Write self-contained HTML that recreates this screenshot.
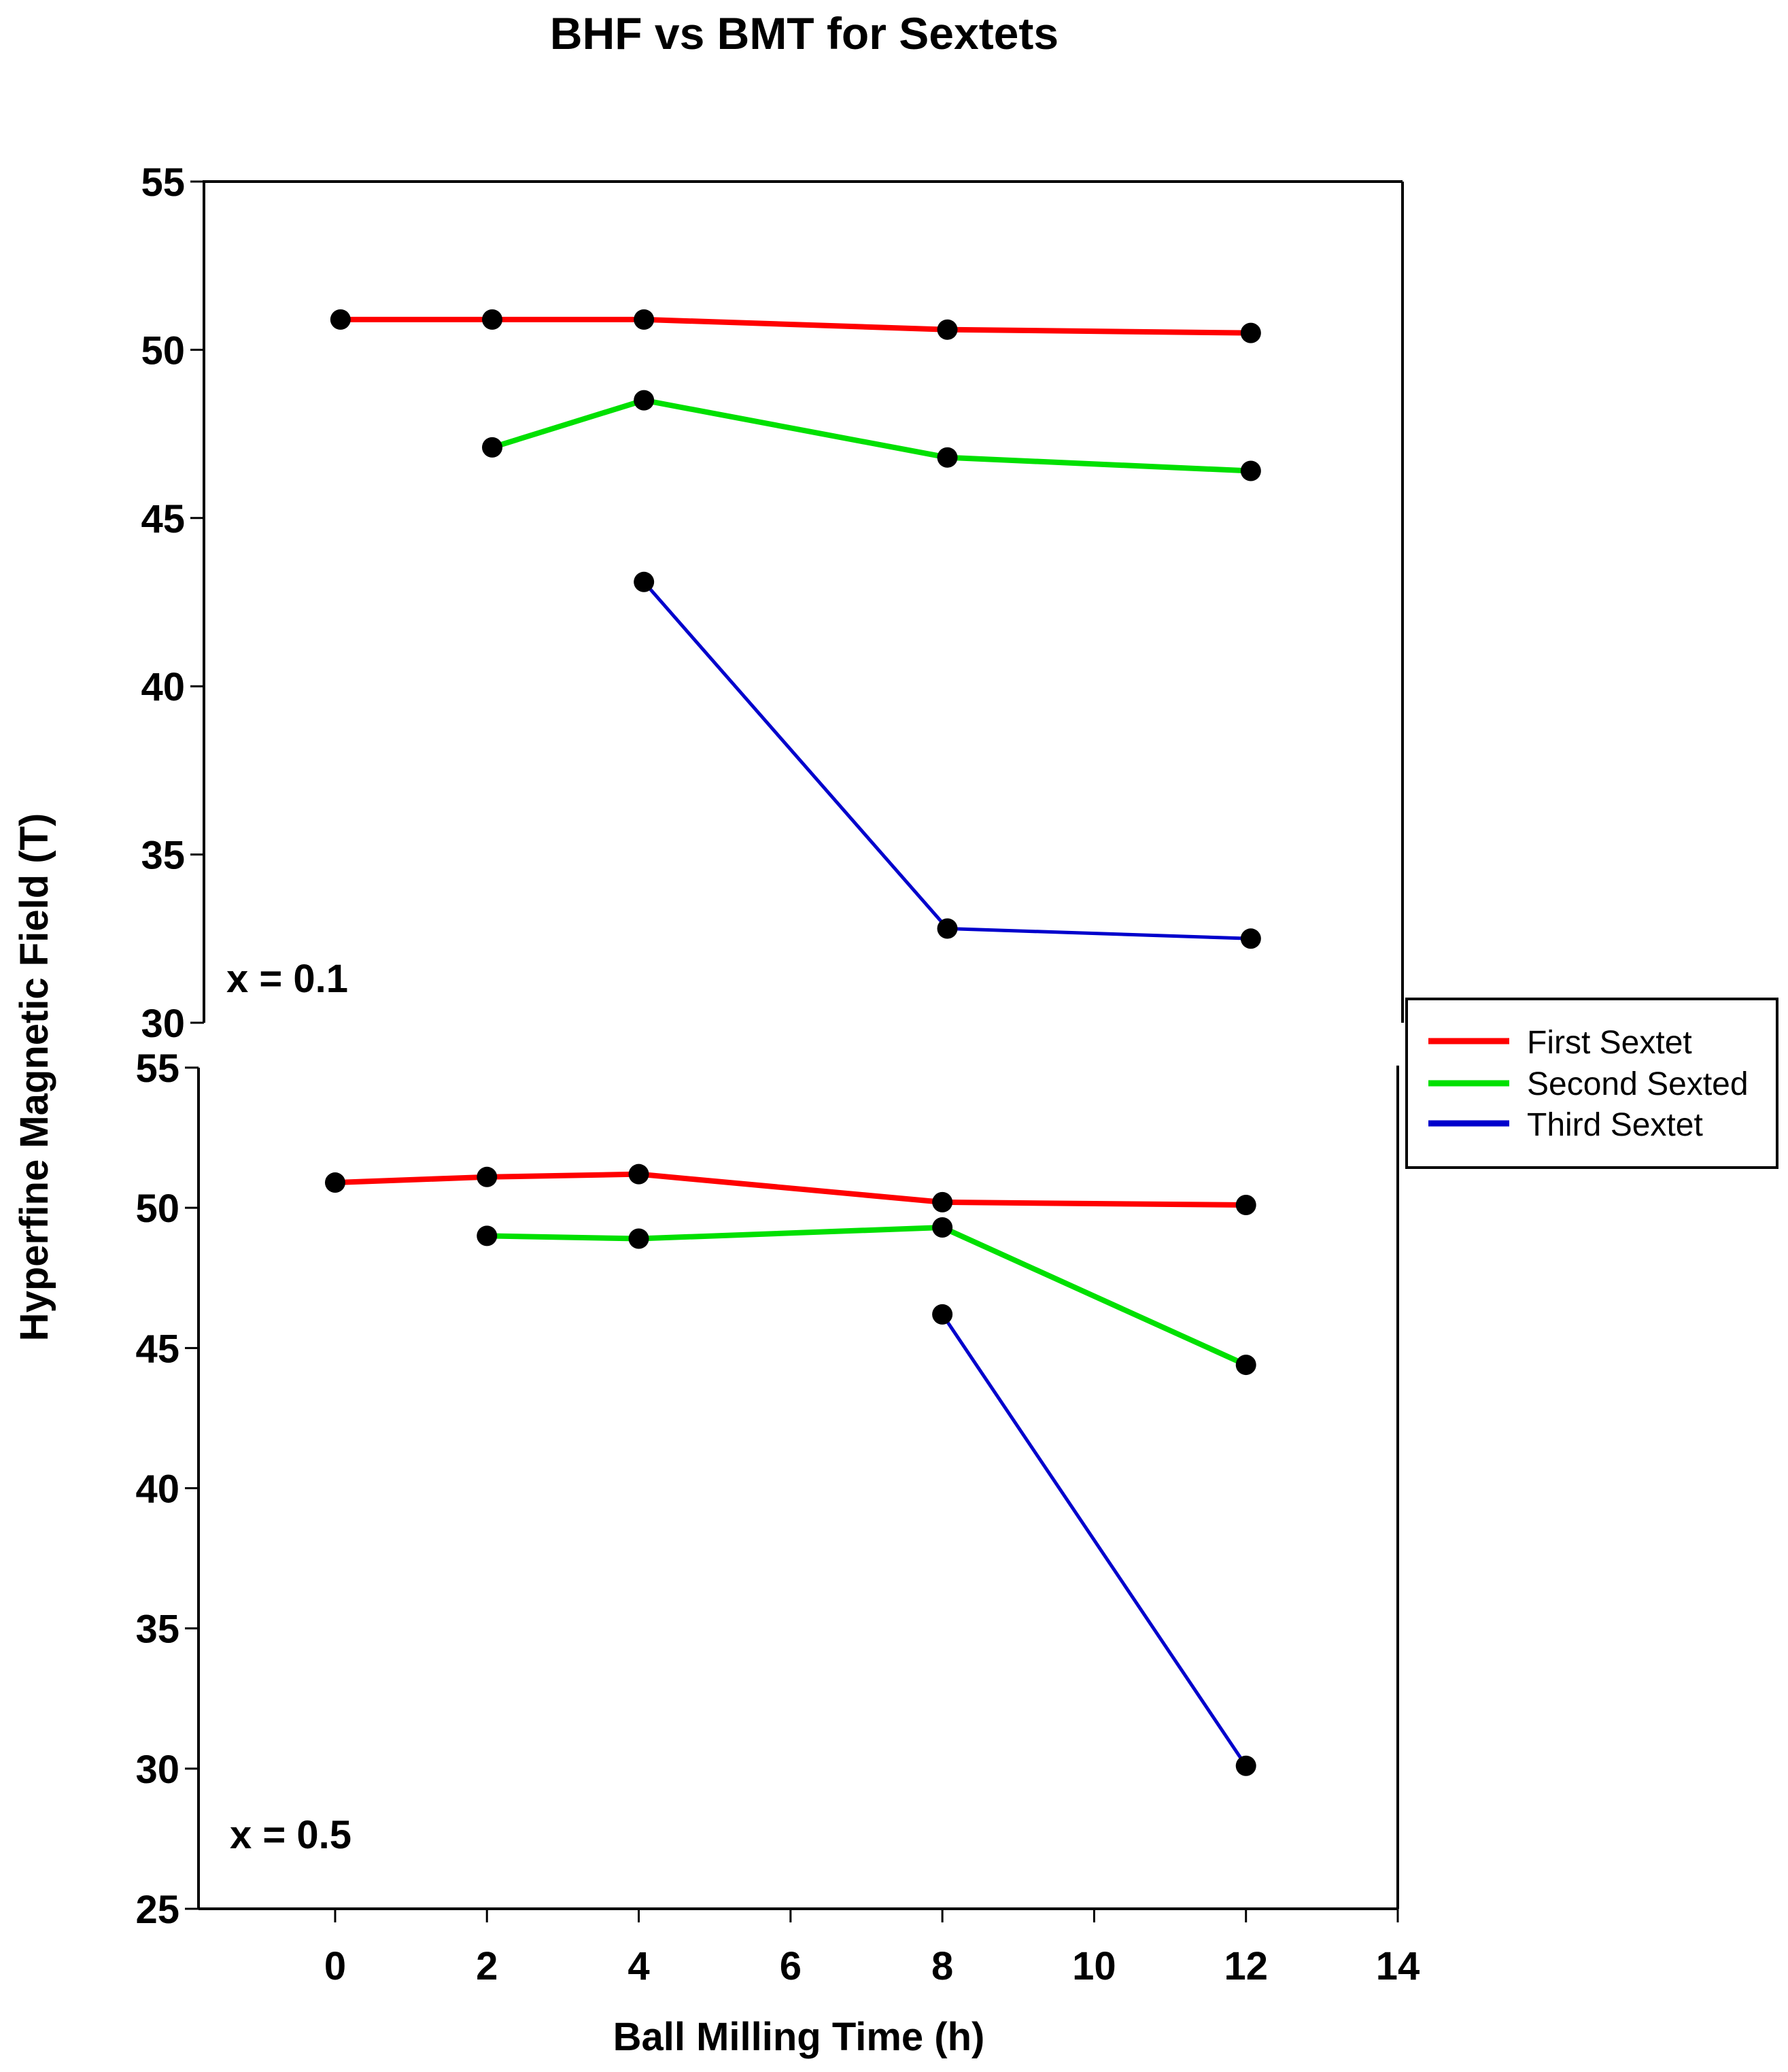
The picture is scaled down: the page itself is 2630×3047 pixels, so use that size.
<!DOCTYPE html>
<html><head><meta charset="utf-8"><style>
html,body{margin:0;padding:0;background:#fff;}
svg{display:block;font-family:"Liberation Sans",sans-serif;}
</style></head><body>
<svg id="chart" width="2630" height="3047" viewBox="0 0 2630 3047" xmlns="http://www.w3.org/2000/svg">
<text x="1183" y="72" font-size="66" font-weight="bold" text-anchor="middle">BHF vs BMT for Sextets</text>
<text transform="translate(70,1584) rotate(-90)" font-size="58" font-weight="bold" text-anchor="middle">Hyperfine Magnetic Field (T)</text>
<text x="1175" y="3015" font-size="58" font-weight="bold" text-anchor="middle">Ball Milling Time (h)</text>
<g id="top"></g>
<g id="bot"></g>
<g>
<rect x="2069" y="1469" width="545" height="248" fill="#fff" stroke="#000" stroke-width="4"/>
<line x1="2101" y1="1531" x2="2220" y2="1531" stroke="#ff0000" stroke-width="9"/>
<line x1="2101" y1="1593" x2="2220" y2="1593" stroke="#00e000" stroke-width="9"/>
<line x1="2101" y1="1652" x2="2220" y2="1652" stroke="#0000cc" stroke-width="9"/>
<text x="2246" y="1549" font-size="48">First Sextet</text>
<text x="2246" y="1610" font-size="48">Second Sexted</text>
<text x="2246" y="1670" font-size="48">Third Sextet</text>
</g>
</svg>
<script>
const xCats=[0,2,4,8,12];
const topRed=[50.9,50.9,50.9,50.6,50.5];
const topGreenX=[2,4,8,12];
const topGreen=[47.1,48.5,46.8,46.4];
const topBlueX=[4,8,12];
const topBlue=[43.1,32.8,32.5];
const botRed=[50.9,51.1,51.2,50.2,50.1];
const botGreenX=[2,4,8,12];
const botGreen=[49.0,48.9,49.3,44.4];
const botBlueX=[8,12];
const botBlue=[46.2,30.1];
const topYTicks=[30,35,40,45,50,55];
const botYTicks=[25,30,35,40,45,50,55];
const xTicks=[0,2,4,6,8,10,12,14];

const NS="http://www.w3.org/2000/svg";
function mk(parent,tag,attrs){const e=document.createElementNS(NS,tag);for(const k in attrs)e.setAttribute(k,attrs[k]);parent.appendChild(e);return e;}

function panel(g,L,R,T,B,ymin,ymax,yTicks,series,label,labelPos,isBottom){
  const sx=v=>L+(v-(-1.8))/(14-(-1.8))*(R-L);
  const sy=v=>B-(v-ymin)/(ymax-ymin)*(B-T);
  let e;
  e=mk(g,'path',{d:`M${L},${B} L${L},${T}`+(isBottom?'':` L${R},${T}`)+` M${R},${isBottom?T-3:T} L${R},${B}`+(isBottom?` M${L},${B} L${R},${B}`:''),fill:'none',stroke:'#000','stroke-width':4});
  
  
  yTicks.forEach(t=>{
    const y=sy(t);
    const tk=mk(g,'line',{x1:L-20,x2:L,y1:y,y2:y,stroke:'#000','stroke-width':3});
    
    
    const tx=mk(g,'text',{x:L-28,y:y+21,'font-size':58,'font-weight':'bold','text-anchor':'end'});
    tx.textContent=t;
    
    
  });
  if(isBottom){
    xTicks.forEach(t=>{
      const x=sx(t);
      const tk=mk(g,'line',{x1:x,x2:x,y1:B,y2:B+20,stroke:'#000','stroke-width':3});
      
      
      const tx=mk(g,'text',{x:x,y:2911,'font-size':58,'font-weight':'bold','text-anchor':'middle'});
      tx.textContent=t;
      
      
    });
  }
  series.forEach(s=>{
    const pts=s.xs.map((x,i)=>[sx(x),sy(s.ys[i])]);
    const pl=mk(g,'polyline',{points:pts.map(p=>p.join(',')).join(' '),fill:'none',stroke:s.color,'stroke-width':s.w});
    
    
    pts.forEach(p=>{
      const c=mk(g,'circle',{cx:p[0],cy:p[1],r:15,fill:'#000'});
      
      
    });
  });
  const lt=mk(g,'text',{x:labelPos[0],y:labelPos[1],'font-size':58,'font-weight':'bold'});
  lt.textContent=label;
  
  
}
panel(document.getElementById('top'),300,2063,267,1504,30,55,topYTicks,[
  {name:'top-first-sextet',xs:xCats,ys:topRed,color:'#ff0000',w:8},
  {name:'top-second-sextet',xs:topGreenX,ys:topGreen,color:'#00e000',w:8},
  {name:'top-third-sextet',xs:topBlueX,ys:topBlue,color:'#0000cc',w:5}
],'x = 0.1',[333,1459],false);
panel(document.getElementById('bot'),292,2056,1570,2807,25,55,botYTicks,[
  {name:'bottom-first-sextet',xs:xCats,ys:botRed,color:'#ff0000',w:8},
  {name:'bottom-second-sextet',xs:botGreenX,ys:botGreen,color:'#00e000',w:8},
  {name:'bottom-third-sextet',xs:botBlueX,ys:botBlue,color:'#0000cc',w:5}
],'x = 0.5',[338,2718],true);
</script>
</body></html>
